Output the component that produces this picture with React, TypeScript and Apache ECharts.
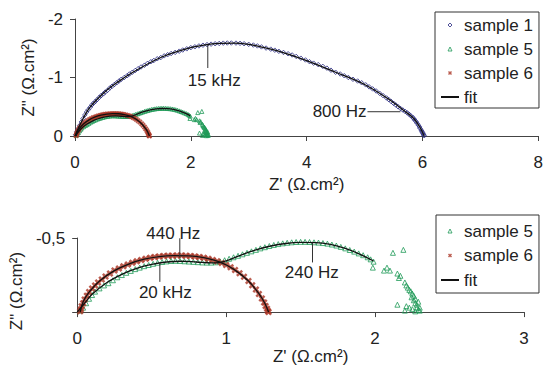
import React, { useEffect, useRef } from 'react';
import * as echarts from 'echarts';

// Z' (x) and Z'' (y, negative upward) readings
const sample1: number[][] = [
  [0.01, -0.02], [0.03, -0.07], [0.05, -0.12], [0.08, -0.18], [0.11, -0.24], [0.14, -0.3], [0.17, -0.36], [0.2, -0.41],
  [0.23, -0.45], [0.26, -0.49], [0.29, -0.53], [0.32, -0.56], [0.35, -0.59], [0.38, -0.62], [0.42, -0.66], [0.45, -0.69],
  [0.49, -0.72], [0.52, -0.75], [0.56, -0.78], [0.6, -0.82], [0.64, -0.85], [0.68, -0.88], [0.72, -0.91], [0.76, -0.94],
  [0.8, -0.97], [0.85, -1.0], [0.9, -1.03], [0.94, -1.06], [0.99, -1.09], [1.04, -1.12], [1.09, -1.15], [1.14, -1.18],
  [1.2, -1.21], [1.25, -1.24], [1.31, -1.27], [1.36, -1.29], [1.42, -1.32], [1.48, -1.34], [1.54, -1.37], [1.6, -1.39],
  [1.66, -1.41], [1.73, -1.43], [1.8, -1.45], [1.86, -1.47], [1.93, -1.49], [2.0, -1.51], [2.07, -1.525], [2.14, -1.54],
  [2.21, -1.552], [2.28, -1.562], [2.35, -1.57], [2.42, -1.577], [2.49, -1.582], [2.56, -1.587], [2.63, -1.59], [2.7, -1.59],
  [2.78, -1.588], [2.85, -1.584], [2.92, -1.577], [3.0, -1.567], [3.08, -1.555], [3.15, -1.54], [3.22, -1.523], [3.3, -1.503],
  [3.38, -1.485], [3.45, -1.467], [3.52, -1.448], [3.6, -1.428], [3.68, -1.406], [3.75, -1.385], [3.82, -1.36], [3.9, -1.33],
  [3.98, -1.3], [4.05, -1.27], [4.12, -1.245], [4.2, -1.22], [4.28, -1.19], [4.35, -1.16], [4.42, -1.125], [4.5, -1.09],
  [4.58, -1.06], [4.65, -1.03], [4.72, -1.0], [4.8, -0.97], [4.88, -0.94], [4.95, -0.91], [5.02, -0.875], [5.08, -0.84],
  [5.14, -0.805], [5.2, -0.77], [5.26, -0.73], [5.32, -0.69], [5.38, -0.65], [5.42, -0.62], [5.46, -0.59], [5.5, -0.56],
  [5.54, -0.53], [5.58, -0.5], [5.62, -0.47], [5.66, -0.445], [5.7, -0.42], [5.74, -0.395], [5.77, -0.37], [5.8, -0.345],
  [5.83, -0.32], [5.85, -0.295], [5.87, -0.27], [5.89, -0.245], [5.91, -0.215], [5.93, -0.185], [5.95, -0.155], [5.96, -0.13],
  [5.98, -0.1], [5.99, -0.08], [6.0, -0.06], [6.01, -0.04], [6.02, -0.02], [6.03, -0.005],
];

const sample5: number[][] = [
  [0.02, -0.01], [0.04, -0.03], [0.06, -0.06], [0.08, -0.09], [0.1, -0.115], [0.12, -0.138], [0.15, -0.16], [0.18, -0.18],
  [0.21, -0.195], [0.24, -0.215], [0.27, -0.235], [0.3, -0.25], [0.33, -0.265], [0.36, -0.278], [0.39, -0.29], [0.42, -0.3],
  [0.45, -0.31], [0.48, -0.318], [0.51, -0.326], [0.54, -0.333], [0.57, -0.338], [0.6, -0.342], [0.63, -0.345], [0.66, -0.346],
  [0.69, -0.345], [0.72, -0.343], [0.75, -0.341], [0.78, -0.339], [0.81, -0.337], [0.84, -0.335], [0.87, -0.334], [0.9, -0.334],
  [0.93, -0.336], [0.96, -0.342], [0.99, -0.35], [1.02, -0.36], [1.05, -0.37], [1.08, -0.38], [1.11, -0.39], [1.14, -0.4],
  [1.17, -0.41], [1.2, -0.42], [1.23, -0.43], [1.26, -0.438], [1.29, -0.446], [1.32, -0.453], [1.35, -0.459], [1.38, -0.464],
  [1.41, -0.468], [1.44, -0.471], [1.47, -0.473], [1.5, -0.474], [1.53, -0.474], [1.56, -0.473], [1.59, -0.471], [1.62, -0.469],
  [1.65, -0.466], [1.68, -0.462], [1.71, -0.456], [1.74, -0.449], [1.77, -0.44], [1.8, -0.43], [1.83, -0.419], [1.86, -0.408],
  [1.89, -0.396], [1.92, -0.384], [1.95, -0.37], [1.97, -0.356], [1.99, -0.34], [1.985, -0.3], [2.06, -0.28], [2.08, -0.3],
  [2.1, -0.28], [2.12, -0.4], [2.19, -0.42], [2.15, -0.26], [2.16, -0.23], [2.17, -0.245], [2.2, -0.2], [2.21, -0.18],
  [2.22, -0.165], [2.23, -0.15], [2.24, -0.14], [2.25, -0.125], [2.245, -0.1], [2.26, -0.11], [2.26, -0.08], [2.27, -0.09],
  [2.27, -0.06], [2.28, -0.05], [2.28, -0.03], [2.29, -0.015], [2.3, -0.01], [2.27, -0.005], [2.25, -0.02], [2.15, -0.05],
  [2.2, -0.01], [2.21, -0.04], [2.23, -0.03], [2.3, -0.03], [2.29, -0.07],
];

const sample6: number[][] = [
  [0.02, -0.005], [0.025, -0.02], [0.03, -0.04], [0.04, -0.06], [0.05, -0.085], [0.065, -0.11], [0.08, -0.135], [0.1, -0.16],
  [0.12, -0.18], [0.14, -0.2], [0.165, -0.22], [0.19, -0.24], [0.22, -0.26], [0.25, -0.28], [0.28, -0.295], [0.31, -0.31],
  [0.34, -0.322], [0.37, -0.333], [0.4, -0.343], [0.43, -0.352], [0.46, -0.36], [0.49, -0.366], [0.52, -0.371], [0.55, -0.375],
  [0.58, -0.378], [0.61, -0.38], [0.64, -0.381], [0.67, -0.382], [0.7, -0.382], [0.73, -0.381], [0.76, -0.379], [0.79, -0.376],
  [0.82, -0.372], [0.85, -0.367], [0.88, -0.36], [0.91, -0.352], [0.94, -0.343], [0.97, -0.332], [1.0, -0.318], [1.03, -0.302],
  [1.06, -0.284], [1.09, -0.262], [1.12, -0.238], [1.15, -0.21], [1.175, -0.182], [1.2, -0.152], [1.22, -0.122], [1.24, -0.092],
  [1.255, -0.065], [1.265, -0.042], [1.275, -0.022], [1.28, -0.008], [1.285, 0],
];

const fit1: number[][] = [
  [0, 0], [0.1, -0.22], [0.25, -0.48], [0.5, -0.74], [0.75, -0.93], [1.0, -1.09], [1.5, -1.35], [2.0, -1.51], [2.25, -1.558],
  [2.5, -1.583], [2.75, -1.589], [3.0, -1.567], [3.25, -1.515], [3.5, -1.455], [4.0, -1.29], [4.5, -1.09], [5.0, -0.88],
  [5.4, -0.64], [5.7, -0.42], [5.85, -0.3], [5.95, -0.16], [6.03, 0],
];
const fit5: number[][] = [
  [0, 0], [0.05, -0.06], [0.1, -0.12], [0.2, -0.2], [0.3, -0.255], [0.4, -0.295], [0.5, -0.322], [0.6, -0.338],
  [0.7, -0.343], [0.8, -0.338], [0.9, -0.332], [0.95, -0.334], [1.0, -0.345], [1.1, -0.385], [1.2, -0.42], [1.3, -0.446],
  [1.4, -0.463], [1.5, -0.47], [1.6, -0.469], [1.7, -0.457], [1.8, -0.43], [1.9, -0.39], [1.99, -0.345],
];
const fit6: number[][] = [
  [0.02, 0], [0.04, -0.07], [0.08, -0.135], [0.15, -0.21], [0.25, -0.28], [0.35, -0.326], [0.45, -0.357], [0.55, -0.375],
  [0.65, -0.381], [0.75, -0.38], [0.85, -0.367], [0.95, -0.34], [1.05, -0.29], [1.15, -0.21], [1.22, -0.125], [1.26, -0.06],
  [1.285, 0],
];

// frequency annotations: leader line (data coords) and label anchor
const topNotes = [
  { text: '15 kHz', line: [[2.293, -1.56], [2.293, -1.162]], at: [2.405, -0.957], align: 'center' },
  { text: '800 Hz', line: [[5.05, -0.415], [5.62, -0.415]], at: [5.034, -0.415], align: 'right' },
];
const bottomNotes = [
  { text: '440 Hz', line: [[0.689, -0.498], [0.689, -0.368]], at: [0.645, -0.53], align: 'center' },
  { text: '20 kHz', line: [[0.555, -0.335], [0.555, -0.204]], at: [0.592, -0.135], align: 'center' },
  { text: '240 Hz', line: [[1.58, -0.467], [1.58, -0.335]], at: [1.575, -0.27], align: 'center' },
];

const topLegend = ['sample 1', 'sample 5', 'sample 6', 'fit'];
const bottomLegend = ['sample 5', 'sample 6', 'fit'];

const BLUE = '#25277f';
const GREEN = '#1f9a58';
const RED = '#aa3524';
const TXT = '#222';
const FONT = '"Liberation Sans", Arial, sans-serif';
const AXIS_NAME = "Z' (Ω.cm²)";
const Y_NAME = 'Z" (Ω.cm²)';
const XSYM = 'path://M0,2.5L2.5,0L5,2.5L7.5,0L10,2.5L7.5,5L10,7.5L7.5,10L5,7.5L2.5,10L0,7.5L2.5,5Z';

const iconFor: Record<string, any> = {
  'sample 1': { icon: 'path://M5,0L10,5L5,10L0,5Z', itemStyle: { color: 'rgba(0,0,0,0)', borderColor: BLUE, borderWidth: 1 } },
  'sample 5': { icon: 'path://M5,0L10,10L0,10Z', itemStyle: { color: 'rgba(0,0,0,0)', borderColor: GREEN, borderWidth: 1 } },
  'sample 6': { icon: XSYM, itemStyle: { color: RED, borderWidth: 0 } },
  fit: { icon: 'path://M0,0L18,0L18,2L0,2Z', itemStyle: { color: '#111', borderWidth: 0 } },
};

function axisCommon() {
  return {
    axisLine: { show: true, onZero: false, lineStyle: { color: '#444', width: 1 } },
    axisTick: { show: true, inside: false, length: 5, lineStyle: { color: '#444' } },
    splitLine: { show: false },
    axisLabel: { color: TXT, fontSize: 17, fontFamily: FONT },
    nameTextStyle: { color: TXT, fontSize: 17, fontFamily: FONT },
  };
}

function scatter(name: string, data: number[][], idx: number, sym: string, color: string, size: number, hollow: boolean) {
  return {
    type: 'scatter', name, data, xAxisIndex: idx, yAxisIndex: idx,
    symbol: sym, symbolSize: size,
    itemStyle: hollow ? { color: 'rgba(0,0,0,0)', borderColor: color, borderWidth: 1 } : { color, borderWidth: 0 },
    emphasis: { disabled: true }, z: 2,
  };
}
function fitLine(data: number[][], idx: number) {
  return {
    type: 'line', name: 'fit', data, xAxisIndex: idx, yAxisIndex: idx, smooth: 0.35,
    showSymbol: false, symbol: 'none', lineStyle: { color: '#111', width: 1.3 }, itemStyle: { color: '#111' },
    emphasis: { disabled: true }, z: 3,
  };
}
function legend(names: string[], left: number, top: number, padding: number[], gap: number) {
  return {
    left, top, orient: 'vertical', padding, itemGap: gap, itemWidth: 18, itemHeight: 4,
    symbolKeepAspect: true, selectedMode: false,
    borderColor: '#333', borderWidth: 1, backgroundColor: '#fff',
    textStyle: { color: TXT, fontSize: 17, fontFamily: FONT, lineHeight: 18 },
    data: names.map((n) => ({ name: n, ...iconFor[n] })),
  };
}

export default function App() {
  const ref = useRef<HTMLDivElement>(null);
  useEffect(() => {
    const chart = echarts.init(ref.current!, null, { renderer: 'svg' });
    const c = axisCommon();
    chart.setOption({
      animation: false,
      textStyle: { fontFamily: FONT },
      grid: [
        { left: 75, top: 19, width: 464, height: 117 },
        { left: 76, top: 238, width: 448, height: 76 },
      ],
      xAxis: [
        {
          ...c, gridIndex: 0, type: 'value', min: 0, max: 8, interval: 2,
          axisLabel: { ...c.axisLabel, margin: 18 },
          name: AXIS_NAME, nameLocation: 'middle', nameGap: 40,
        },
        {
          ...c, gridIndex: 1, type: 'value', min: 0, max: 3, interval: 1,
          axisLabel: { ...c.axisLabel, margin: 18 },
          name: AXIS_NAME, nameLocation: 'middle', nameGap: 35,
          nameTextStyle: { ...c.nameTextStyle, padding: [0, 0, 0, 20] },
        },
      ],
      yAxis: [
        {
          ...c, gridIndex: 0, type: 'value', min: -2, max: 0, interval: 1, inverse: true,
          axisLabel: { ...c.axisLabel, margin: 12, formatter: (v: number) => String(v) },
          name: Y_NAME, nameLocation: 'middle', nameRotate: 90, nameGap: 38,
        },
        {
          ...c, gridIndex: 1, type: 'value', min: -0.5, max: 0, interval: 0.5, inverse: true,
          axisLabel: { ...c.axisLabel, margin: 12, formatter: (v: number) => (v === 0 ? '' : String(v).replace('.', ',')) },
          name: Y_NAME, nameLocation: 'middle', nameRotate: 90, nameGap: 38,
          nameTextStyle: { ...c.nameTextStyle, padding: [0, 32, 0, 0] },
        },
      ],
      legend: [
        legend(topLegend, 435, 12, [4, 6, 2, 6], 6),
        legend(bottomLegend, 436, 215, [7, 6, 4, 5], 6.5),
      ],
      series: [
        scatter('sample 1', sample1, 0, 'diamond', BLUE, 4.5, true),
        scatter('sample 5', sample5, 0, 'triangle', GREEN, 4, true),
        scatter('sample 6', sample6, 0, XSYM, RED, 5.5, false),
        fitLine(fit1, 0), fitLine(fit5, 0), fitLine(fit6, 0),
        scatter('sample 5', sample5, 1, 'triangle', GREEN, 5, true),
        scatter('sample 6', sample6, 1, XSYM, RED, 7, false),
        fitLine(fit5, 1), fitLine(fit6, 1),
      ],
    });

    const graphics: any[] = [];
    const addNotes = (notes: any[], idx: number) => {
      const finder = { xAxisIndex: idx, yAxisIndex: idx };
      notes.forEach((n) => {
        const p1 = chart.convertToPixel(finder, n.line[0]) as number[];
        const p2 = chart.convertToPixel(finder, n.line[1]) as number[];
        const pt = chart.convertToPixel(finder, n.at) as number[];
        graphics.push({
          type: 'line', z: 10, shape: { x1: p1[0], y1: p1[1], x2: p2[0], y2: p2[1] },
          style: { stroke: '#333', lineWidth: 1 },
        });
        graphics.push({
          type: 'text', z: 10, x: pt[0], y: pt[1],
          style: { text: n.text, fill: TXT, fontSize: 17, fontFamily: FONT, align: n.align, verticalAlign: 'middle' },
        });
      });
    };
    addNotes(topNotes, 0);
    addNotes(bottomNotes, 1);
    chart.setOption({ graphic: graphics });

    return () => chart.dispose();
  }, []);
  return <div ref={ref} style={{ position: 'absolute', left: 0, top: 0, width: 546, height: 366 }} />;
}
